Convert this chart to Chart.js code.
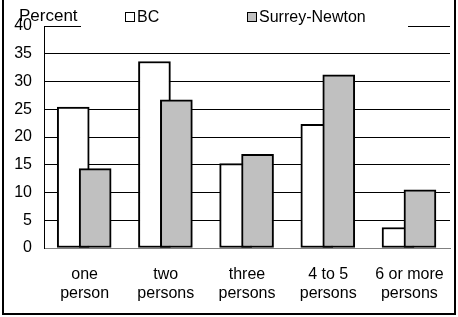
<!DOCTYPE html>
<html>
<head>
<meta charset="utf-8">
<script src="https://cdn.jsdelivr.net/npm/chart.js@4"></script>
<style>
  html, body { margin: 0; padding: 0; background: #fff; }
  #wrap { position: relative; width: 458px; height: 317px; overflow: hidden; }
  #frame { position: absolute; left: 2px; top: -10px; width: 454px; height: 325px;
           border: 2px solid #000; box-sizing: border-box; pointer-events: none; }
</style>
</head>
<body>
<div id="wrap">
  <canvas id="chart" width="458" height="317"></canvas>
  <div id="frame"></div>
</div>
<script>
// data
var categories = [['one', 'person'], ['two', 'persons'], ['three', 'persons'], ['4 to 5', 'persons'], ['6 or more', 'persons']];
var seriesNames = ['BC', 'Surrey-Newton'];
var bcValues = [25.4, 33.6, 15.2, 22.3, 3.7];
var surreyValues = [14.3, 26.7, 16.9, 31.2, 10.5];
var yTicks = [0, 5, 10, 15, 20, 25, 30, 35, 40];
var yTitle = 'Percent';

var FONT = '"Liberation Sans", Arial, sans-serif';
// bars overlap a bit, Surrey drawn over BC
var bcShift = -0.14, surreyShift = 0.13;

function points(values, shift) {
  return values.map(function (v, i) { return { x: i + 1 + shift, y: v }; });
}

// "Percent" label and the legend sit on top of the plot
var header = {
  id: 'header',
  afterDraw: function (chart) {
    var c = chart.ctx;
    c.save();
    c.fillStyle = '#fff';
    c.fillRect(81, 23, 327, 6);
    c.fillStyle = '#000';
    c.textBaseline = 'alphabetic';
    c.font = '17px ' + FONT;
    c.fillText(yTitle, 19, 21);
    c.font = '16px ' + FONT;
    var boxX = [125, 247];
    chart.data.datasets.forEach(function (ds, i) {
      c.fillStyle = ds.backgroundColor;
      c.fillRect(boxX[i], 12, 10, 10);
      c.strokeStyle = '#000';
      c.lineWidth = 1;
      c.strokeRect(boxX[i] + 0.5, 12.5, 9, 9);
      c.fillStyle = '#000';
      c.fillText(ds.label, boxX[i] + 12, 22);
    });
    c.restore();
  }
};

new Chart(document.getElementById('chart'), {
  type: 'bar',
  data: {
    datasets: [{
      label: seriesNames[0],
      data: points(bcValues, bcShift),
      backgroundColor: '#ffffff',
      borderColor: '#000000',
      borderWidth: 2,
      order: 1
    }, {
      label: seriesNames[1],
      data: points(surreyValues, surreyShift),
      backgroundColor: '#c0c0c0',
      borderColor: '#000000',
      borderWidth: 2,
      order: 0
    }]
  },
  options: {
    responsive: false,
    animation: false,
    layout: { padding: { top: 26, right: 8, left: 0, bottom: 0 } },
    datasets: { bar: { grouped: false, barThickness: 32, borderSkipped: false } },
    plugins: { legend: { display: false }, tooltip: { enabled: false } },
    scales: {
      x: {
        type: 'linear',
        min: 0.5,
        max: 5.5,
        offset: false,
        grid: { display: false, offset: false },
        border: { color: '#808080', width: 1 },
        afterBuildTicks: function (s) {
          s.ticks = categories.map(function (c, i) { return { value: i + 1 }; });
        },
        afterFit: function (s) { s.height = 69; },
        ticks: {
          callback: function (v) { return categories[v - 1]; },
          color: '#000',
          font: { family: FONT, size: 16, lineHeight: 1.2 },
          padding: 9,
          maxRotation: 0,
          autoSkip: false
        }
      },
      y: {
        min: 0,
        max: 40,
        afterBuildTicks: function (s) {
          s.ticks = yTicks.map(function (v) { return { value: v }; });
        },
        afterFit: function (s) { s.width = 44; },
        grid: {
          color: function (ctx) { return ctx.tick && ctx.tick.value === 0 ? '#808080' : '#000'; },
          drawTicks: false
        },
        border: { color: '#000', width: 1 },
        ticks: { color: '#000', font: { family: FONT, size: 16 }, padding: 12 }
      }
    }
  },
  plugins: [header]
});
</script>
</body>
</html>
